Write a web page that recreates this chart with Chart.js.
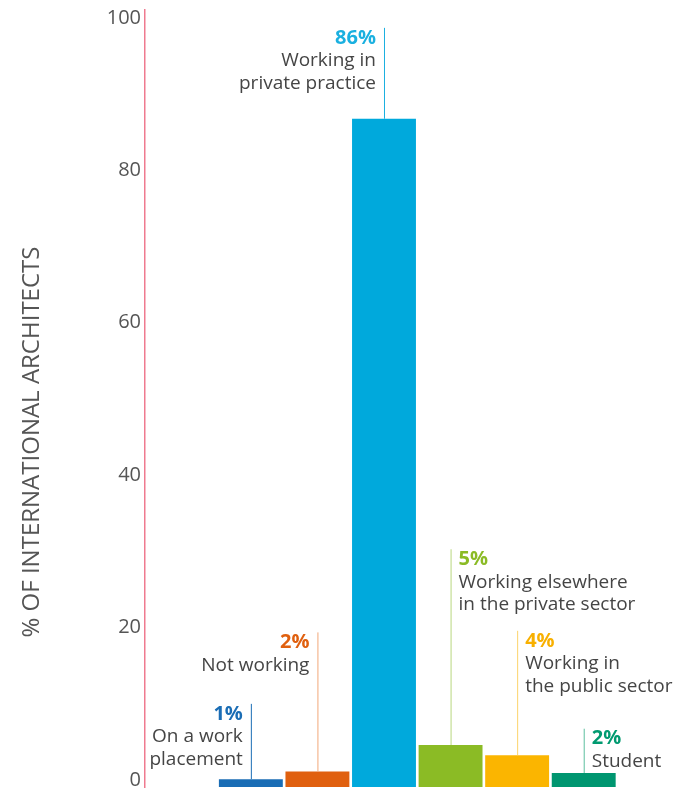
<!DOCTYPE html>
<html>
<head>
<meta charset="utf-8">
<script src="https://cdn.jsdelivr.net/npm/chart.js@4.4.1/dist/chart.umd.min.js"></script>
<style>
  html, body { margin: 0; padding: 0; background: #fff; }
  #wrap { width: 681px; height: 791px; }
</style>
</head>
<body>
<div id="wrap"><canvas id="chart"></canvas></div>
<script>
// data
const categories = ['On a work\nplacement', 'Not working', 'Working in\nprivate practice',
  'Working elsewhere\nin the private sector', 'Working in\nthe public sector', 'Student'];
const values = [1, 2, 86, 5.4, 4.1, 1.8];
const percentLabels = ['1%', '2%', '86%', '5%', '4%', '2%'];
// height (in %) where each callout line ends
const calloutTops = [10.7, 19.9, 97.7, 30.6, 20.1, 7.5];
const tickValues = [0, 20, 40, 60, 80, 100];
const axisTitle = '% OF INTERNATIONAL ARCHITECTS';

const barColors = ['#1a6db5', '#e0600f', '#00a9dc', '#8bbb25', '#fbb500', '#009670'];
const lineColors = ['#1a6db5', '#f2a779', '#1ab0e0', '#b9d77f', '#fcd36a', '#5cbf9f'];
const pctColors = ['#1a6db5', '#e0600f', '#1ab0e0', '#8bbb25', '#f8b000', '#009a70'];

const FONT = "'Open Sans', 'DejaVu Sans', sans-serif";

const callouts = {
  id: 'callouts',
  afterDatasetsDraw(chart) {
    const ctx = chart.ctx;
    const y = chart.scales.y;
    const bars = chart.getDatasetMeta(0).data;
    bars.forEach((bar, i) => {
      const top = y.getPixelForValue(calloutTops[i]);
      const side = i < 3 ? -1 : 1;
      ctx.save();
      ctx.strokeStyle = lineColors[i];
      ctx.lineWidth = 1;
      ctx.beginPath();
      ctx.moveTo(bar.x + 0.5, top);
      ctx.lineTo(bar.x + 0.5, bar.y);
      ctx.stroke();

      const tx = bar.x + side * 8;
      ctx.textAlign = side < 0 ? 'right' : 'left';
      ctx.textBaseline = 'middle';
      ctx.font = 'bold 20px ' + FONT;
      ctx.fillStyle = pctColors[i];
      ctx.fillText(percentLabels[i], tx, top + 10);
      ctx.font = '19px ' + FONT;
      ctx.fillStyle = '#454545';
      categories[i].split('\n').forEach((line, k) => {
        ctx.fillText(line, tx, top + 33 + k * 22.5);
      });
      ctx.restore();
    });

    // axis title, sits a little below the middle of the axis
    ctx.save();
    ctx.translate(32, y.getPixelForValue(44.4));
    ctx.rotate(-Math.PI / 2);
    ctx.textAlign = 'center';
    ctx.textBaseline = 'middle';
    ctx.font = '24px ' + FONT;
    ctx.fillStyle = '#555';
    ctx.fillText(axisTitle, 0, 0);
    ctx.restore();
  }
};

new Chart(document.getElementById('chart').getContext('2d'), {
  type: 'bar',
  data: {
    datasets: [{
      data: values.map((v, i) => ({ x: i + 1, y: v })),
      backgroundColor: barColors,
      borderWidth: 0,
      categoryPercentage: 1,
      barPercentage: 0.96
    }]
  },
  options: {
    responsive: true,
    maintainAspectRatio: false,
    animation: false,
    layout: { padding: { top: 10, bottom: 4, right: 64, left: 0 } },
    scales: {
      x: {
        type: 'linear', min: -0.59, max: 6.5, offset: false, display: false,
        afterBuildTicks: (s) => { s.ticks = values.map((v, i) => ({ value: i + 1 })); }
      },
      y: { min: 0, max: 100, display: false },
      yTicks: {
        position: 'left',
        min: -0.92,
        max: 101.05,
        afterBuildTicks: (s) => { s.ticks = tickValues.map(v => ({ value: v })); },
        afterFit: (s) => { s.width = 145; s.paddingTop = 0; s.paddingBottom = 0; },
        grid: { display: false, drawTicks: false },
        border: { display: true, color: '#ef7a8f', width: 1.5 },
        ticks: { padding: 4, color: '#555', font: { family: FONT, size: 20 } },
        title: { display: false }
      }
    },
    plugins: {
      legend: { display: false },
      tooltip: { enabled: false }
    }
  },
  plugins: [callouts]
});
</script>
</body>
</html>
